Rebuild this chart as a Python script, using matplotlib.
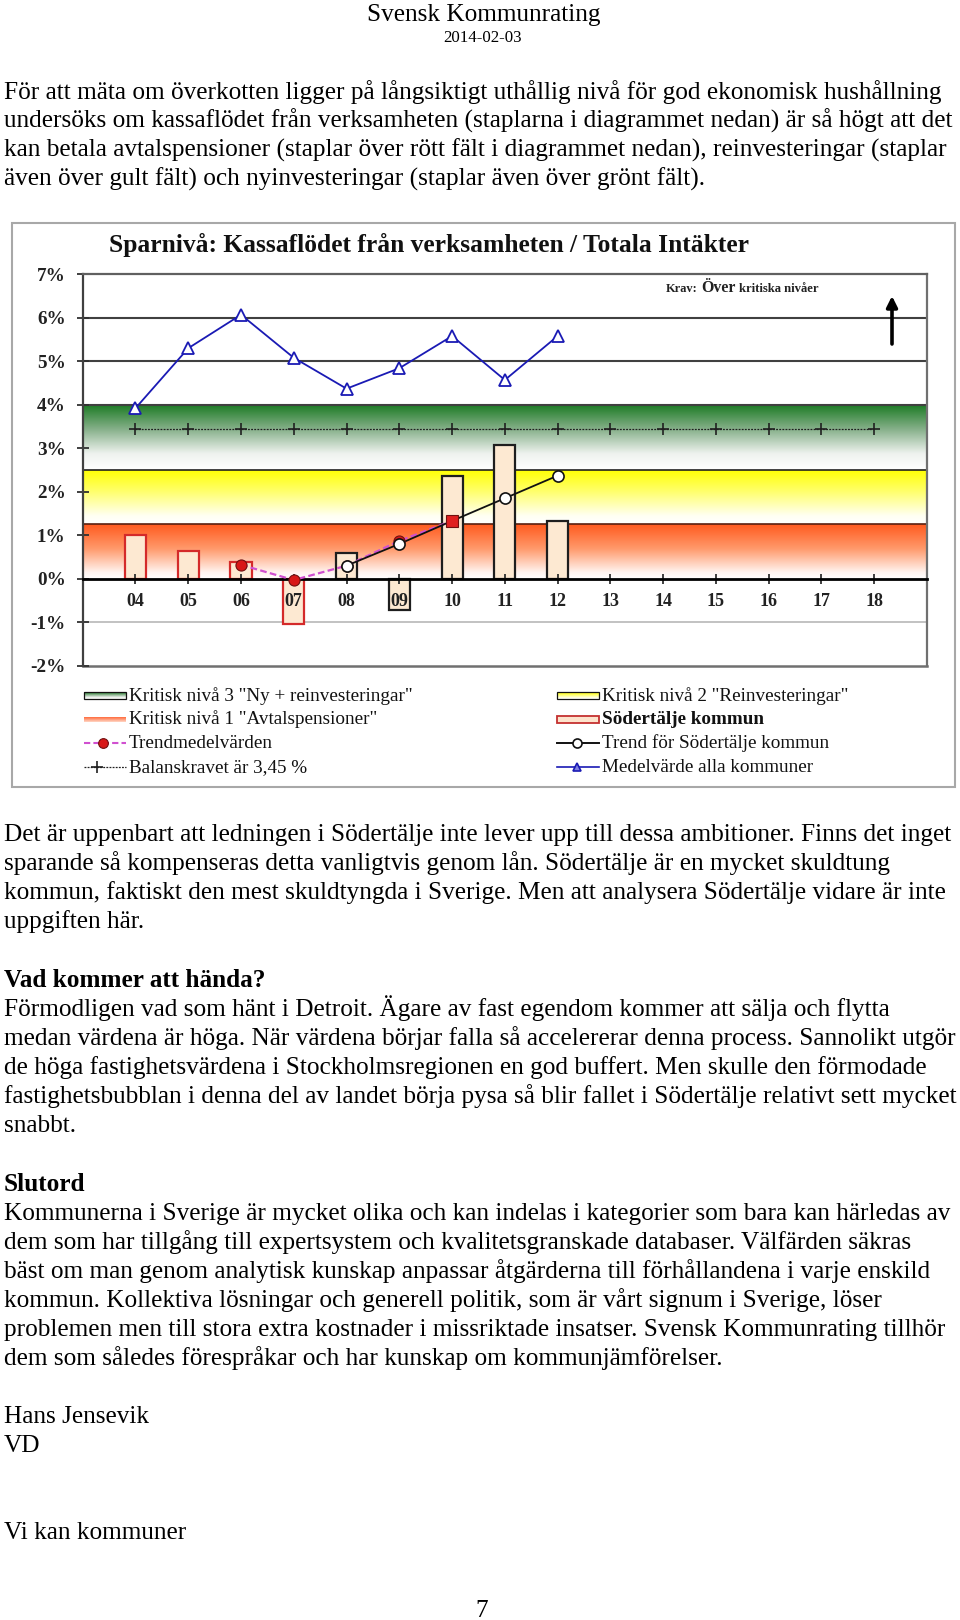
import matplotlib
matplotlib.use('Agg')
import matplotlib.pyplot as plt
import numpy as np
from matplotlib.colors import LinearSegmentedColormap
from matplotlib.patches import Rectangle

# ---------------- data ----------------
years = ['04', '05', '06', '07', '08', '09', '10', '11', '12', '13', '14', '15', '16', '17', '18']
sodertalje = [1.00, 0.64, 0.38, -1.05, 0.58, -0.72, 2.36, 3.08, 1.32]
medel_alla = [3.92, 5.30, 6.07, 5.08, 4.37, 4.84, 5.58, 4.57, 5.58]
trend_medel = [np.nan, np.nan, 0.32, -0.03, 0.30, 0.87, 1.33]
trend_sodertalje = [np.nan, np.nan, np.nan, np.nan, 0.30, 0.80, 1.33, 1.85, 2.37]
balanskrav = 3.45
band_levels = [0.0, 1.25, 2.5, 4.0]       # red, yellow, green bands
grid_levels = [4, 5, 6]
y_ticks = [-2, -1, 0, 1, 2, 3, 4, 5, 6, 7]
y_tick_labels = ['-2%', '-1%', '0%', '1%', '2%', '3%', '4%', '5%', '6%', '7%']

chart_title = 'Sparnivå: Kassaflödet från verksamheten / Totala Intäkter'
legend_left = ['Kritisk nivå 3 "Ny + reinvesteringar"', 'Kritisk nivå 1 "Avtalspensioner"',
               'Trendmedelvärden', 'Balanskravet är 3,45 %']
legend_right = ['Kritisk nivå 2 "Reinvesteringar"', 'Södertälje kommun',
                'Trend för Södertälje kommun', 'Medelvärde alla kommuner']

para1 = ['För att mäta om överkotten ligger på långsiktigt uthållig nivå för god ekonomisk hushållning',
         'undersöks om kassaflödet från verksamheten (staplarna i diagrammet nedan) är så högt att det',
         'kan betala avtalspensioner (staplar över rött fält i diagrammet nedan), reinvesteringar (staplar',
         'även över gult fält) och nyinvesteringar (staplar även över grönt fält).']
para2 = ['Det är uppenbart att ledningen i Södertälje inte lever upp till dessa ambitioner. Finns det inget',
         'sparande så kompenseras detta vanligtvis genom lån. Södertälje är en mycket skuldtung',
         'kommun, faktiskt den mest skuldtyngda i Sverige. Men att analysera Södertälje vidare är inte',
         'uppgiften här.']
head3 = 'Vad kommer att hända?'
para3 = ['Förmodligen vad som hänt i Detroit. Ägare av fast egendom kommer att sälja och flytta',
         'medan värdena är höga. När värdena börjar falla så accelererar denna process. Sannolikt utgör',
         'de höga fastighetsvärdena i Stockholmsregionen en god buffert. Men skulle den förmodade',
         'fastighetsbubblan i denna del av landet börja pysa så blir fallet i Södertälje relativt sett mycket',
         'snabbt.']
head4 = 'Slutord'
para4 = ['Kommunerna i Sverige är mycket olika och kan indelas i kategorier som bara kan härledas av',
         'dem som har tillgång till expertsystem och kvalitetsgranskade databaser. Välfärden säkras',
         'bäst om man genom analytisk kunskap anpassar åtgärderna till förhållandena i varje enskild',
         'kommun. Kollektiva lösningar och generell politik, som är vårt signum i Sverige, löser',
         'problemen men till stora extra kostnader i missriktade insatser. Svensk Kommunrating tillhör',
         'dem som således förespråkar och har kunskap om kommunjämförelser.']

# ---------------- figure ----------------
W, H = 960, 1620
plt.rcParams['font.family'] = ['Liberation Serif', 'DejaVu Serif']
fig = plt.figure(figsize=(W / 100, H / 100), dpi=100)


def px_axes(l, t, r, b):
    return fig.add_axes([l / W, 1 - b / H, (r - l) / W, (b - t) / H])


ax = px_axes(82.7, 274.3, 927, 665.7)
ax.set_zorder(1)
pg = fig.add_axes([0, 0, 1, 1])
pg.set_zorder(2)
pg.patch.set_alpha(0)
pg.axis('off')

# spines first (moving a spine resets the ticks)
ax.spines['bottom'].set_position(('data', 0))
ax.spines['bottom'].set_color('#000000')
ax.spines['bottom'].set_linewidth(2.0)
ax.spines['bottom'].set_zorder(3.5)
ax.spines['left'].set_color('#404040')
ax.spines['left'].set_linewidth(1.6)
ax.spines['top'].set_color('#606060')
ax.spines['top'].set_linewidth(1.6)
ax.spines['right'].set_color('#707070')
ax.spines['right'].set_linewidth(1.6)

x = np.arange(len(years))
grad = np.linspace(0, 1, 256).reshape(-1, 1)


def vgrad(a, ext, stops, z):
    cmap = LinearSegmentedColormap.from_list('g', stops)
    a.imshow(grad, extent=ext, origin='lower', cmap=cmap, aspect='auto',
             interpolation='bilinear', zorder=z)


red_stops = [(0, '#ffffff'), (0.12, '#fff4f0'), (0.55, '#ff9a6c'), (1, '#ff5a1e')]
yel_stops = [(0, '#ffffff'), (0.15, '#fffff2'), (0.6, '#ffff6a'), (1, '#ffff00')]
grn_stops = [(0, '#ffffff'), (0.25, '#eef2ee'), (0.62, '#86b08a'), (1, '#1a7a22')]

x0, x1 = -1, 15
vgrad(ax, [x0, x1, band_levels[0], band_levels[1]], red_stops, 0.5)
vgrad(ax, [x0, x1, band_levels[1], band_levels[2]], yel_stops, 0.5)
vgrad(ax, [x0, x1, band_levels[2], band_levels[3]], grn_stops, 0.5)

for g in grid_levels:
    ax.axhline(g, color='#404040', lw=1.5, zorder=1)
ax.axhline(-1, color='#b8b8b8', lw=1.2, zorder=1)
ax.axhline(band_levels[2], color='#202020', lw=1.2, zorder=1)
ax.axhline(band_levels[1], color='#5a2010', lw=1.2, zorder=1)
ax.axhline(-2, color='#707070', lw=1.8, zorder=1, clip_on=False)

# balance requirement
ax.plot(x, np.full(len(x), balanskrav), color='#202020', lw=0.9, ls=(0, (1.5, 1.0)),
        marker='+', ms=9, mew=1.2, zorder=2)

# bars
n = len(sodertalje)
edge = ['#d42a2a'] * 4 + ['#1e1e1e'] * (n - 4)
ax.bar(x[:n], sodertalje, width=0.4, color='#fde9d2', edgecolor=edge, lw=1.6, zorder=2.2)

# average of all municipalities
ax.plot(x[:n], medel_alla, color='#1a1ab4', lw=1.3, marker='^', ms=8, mfc='white',
        mec='#1a1ab4', mew=1.3, zorder=4)

# trend lines
tm = np.array(trend_medel)
ax.plot(x[:len(tm)], tm, color='#d050d0', lw=1.6, ls=(0, (3, 1.5)), zorder=4)
ts = np.array(trend_sodertalje)
ax.plot(x[:len(ts)], ts, color='#111111', lw=1.3, zorder=4)
ax.plot(x[2:6], tm[2:6], ls='none', marker='o', ms=8, mfc='#d81818', mec='#701010', mew=0.8, zorder=5)
ax.plot(x[:len(ts)], ts, ls='none', marker='o', ms=8, mfc='white', mec='#111111', mew=1.2, zorder=6)
ax.plot(x[6:7], tm[6:7], ls='none', marker='s', ms=8, mfc='#e02020', mec='#701010', mew=0.8, zorder=7)

ax.set_xlim(x0, x1)
ax.set_ylim(-2, 7)

ax.set_yticks(y_ticks)
ax.set_yticklabels(y_tick_labels, fontweight='bold')
ax.tick_params(axis='y', direction='inout', length=12 * 0.72, width=1.3, colors='#303030',
               pad=8.0, labelsize=13.8, labelcolor='#222222')
ax.set_xticks(x)
ax.set_xticklabels(years, fontweight='bold')
ax.tick_params(axis='x', direction='inout', length=10 * 0.72, width=1.3, colors='#303030',
               pad=7.0, labelsize=13, labelcolor='#222222')
ax.xaxis.set_zorder(3)
for lbl in ax.get_yticklabels() + ax.get_xticklabels():
    lbl.set_fontweight('bold')

# ---------------- page overlay ----------------
pg.add_patch(Rectangle((11.7, 222.7), 955 - 11.7, 787.3 - 222.7, fill=False,
                       ec='#a8a8a8', lw=1.5))

pg.text(109, 252.3, chart_title, fontsize=18.4, fontweight='bold', va='baseline', ha='left',
        color='#111111')
pg.text(665.7, 292.3, 'Krav:', fontsize=8.9, fontweight='bold', va='baseline', color='#222222')
pg.text(701.7, 292.3, 'Över', fontsize=11.4, fontweight='bold', va='baseline', color='#222222')
pg.text(739.3, 292.3, 'kritiska nivåer', fontsize=9.1, fontweight='bold', va='baseline',
        color='#222222')
pg.annotate('', xy=(892, 296), xytext=(892, 344),
            arrowprops=dict(arrowstyle='-|>', lw=2.6, color='black', mutation_scale=16,
                            shrinkA=0, shrinkB=0))

# legend
rows = [695.7, 719.3, 743.3, 767.3]
Lx0, Lx1, Ltx = 84, 125.7, 129
Rx0, Rx1, Rtx = 556.7, 599, 601.7
lfs = 13.75
vgrad(pg, [Lx0, Lx1, rows[0] + 3.5, rows[0] - 3.5], grn_stops, 3)
pg.add_patch(Rectangle((Lx0, rows[0] - 3.5), Lx1 - Lx0, 7, fill=False, ec='#111111', lw=0.9, zorder=4))
vgrad(pg, [Lx0, Lx1, rows[1] + 2.5, rows[1] - 2.5],
      [(0, '#ffd8c8'), (1, '#ff6a3a')], 3)
pg.plot([Lx0, Lx1], [rows[2], rows[2]], color='#d050d0', lw=1.5, ls=(0, (3, 1.5)))
pg.plot([103], [rows[2]], marker='o', ms=7, mfc='#d81818', mec='#701010', mew=0.8)
pg.plot([Lx0, Lx1], [rows[3], rows[3]], color='#202020', lw=0.9, ls=(0, (1.5, 1.0)))
pg.plot([97], [rows[3]], marker='+', ms=9, mew=1.2, color='#202020')

vgrad(pg, [Rx0, Rx1, rows[0] + 3.5, rows[0] - 3.5], yel_stops, 3)
pg.add_patch(Rectangle((Rx0, rows[0] - 3.5), Rx1 - Rx0, 7, fill=False, ec='#111111', lw=0.9, zorder=4))
pg.add_patch(Rectangle((Rx0, rows[1] - 3.5), Rx1 - Rx0, 7, fc='#fde3cc', ec='#c43030', lw=1.3, zorder=4))
pg.plot([Rx0, Rx1], [rows[2], rows[2]], color='#111111', lw=1.4)
pg.plot([577], [rows[2]], marker='o', ms=6.5, mfc='white', mec='#111111', mew=1.2)
pg.plot([Rx0, Rx1], [rows[3], rows[3]], color='#1a1ab4', lw=1.2)
pg.plot([577], [rows[3]], marker='^', ms=6, mfc='#8080e0', mec='#1a1ab4', mew=1.2)

for i, t in enumerate(legend_left):
    pg.text(Ltx, rows[i] + 5, t, fontsize=lfs, va='baseline', color='#111111')
for i, t in enumerate(legend_right):
    pg.text(Rtx, rows[i] + 5, t, fontsize=lfs, va='baseline', color='#111111',
            fontweight='bold' if i == 1 else 'normal')

# page text
bfs = 18.2
pg.text(484, 20.7, 'Svensk Kommunrating', fontsize=bfs, ha='center', va='baseline')
pg.text(483, 41.7, '2014-02-03', fontsize=12.2, ha='center', va='baseline')


def block(lines, y0, step=29.0, bold=False):
    for i, t in enumerate(lines):
        pg.text(4, y0 + i * step, t, fontsize=bfs, va='baseline',
                fontweight='bold' if bold else 'normal', color='#000000')


block(para1, 98.5)
block(para2, 841)
block([head3], 987, bold=True)
block(para3, 1016)
block([head4], 1191, bold=True)
block(para4, 1220)
block(['Hans Jensevik', 'VD'], 1423)
block(['Vi kan kommuner'], 1539)
pg.text(482, 1617, '7', fontsize=bfs, ha='center', va='baseline')

pg.set_xlim(0, W)
pg.set_ylim(H, 0)

fig.savefig('out.png', dpi=100)
